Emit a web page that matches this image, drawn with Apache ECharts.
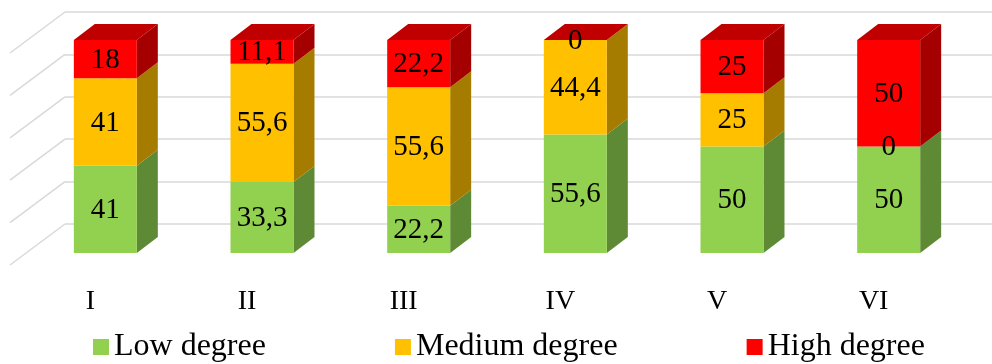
<!DOCTYPE html>
<html>
<head>
<meta charset="utf-8">
<script src="https://cdn.jsdelivr.net/npm/echarts@6/dist/echarts.min.js"></script>
<style>
  html, body { margin: 0; padding: 0; background: #fff; }
  #chart { width: 992px; height: 364px; }
</style>
</head>
<body>
<div id="chart"></div>
<script>
// Categories and stacked shares (percent) per degree level
const categories = ['I', 'II', 'III', 'IV', 'V', 'VI'];
const lowDegree = [41, 33.3, 22.2, 55.6, 50, 50];
const mediumDegree = [41, 55.6, 55.6, 44.4, 25, 0];
const highDegree = [18, 11.1, 22.2, 0, 25, 50];
const wallTicks = [0, 20, 40, 60, 80, 100];

const levels = [
  { name: 'Low degree', values: lowDegree, front: '#92D050', side: '#5F8A35' },
  { name: 'Medium degree', values: mediumDegree, front: '#FFC000', side: '#A67C00' },
  { name: 'High degree', values: highDegree, front: '#FF0000', side: '#A50000', top: '#C00000' }
];

// Pseudo-3D projection of the columns and the back wall
const DEPTH_X = 21, DEPTH_Y = -16;
const FLOOR_X = -55, FLOOR_Y = 41;
const BAR_RATIO = 0.402;
const FONT = '"Liberation Serif", "Times New Roman", serif';

function fmt(v) { return String(v).replace('.', ','); }

const chart = echarts.init(document.getElementById('chart'), null, { renderer: 'canvas' });

const barSeries = levels.map(function (lvl, li) {
  const data = categories.map(function (c, i) {
    let base = 0;
    for (let k = 0; k < li; k++) base += levels[k].values[i];
    return [i, base, base + lvl.values[i], lvl.values[i]];
  });
  const isTop = li === levels.length - 1;
  return {
    type: 'custom',
    name: lvl.name,
    xAxisIndex: 0,
    yAxisIndex: 0,
    itemStyle: { color: lvl.front },
    data: data,
    renderItem: function (params, api) {
      const cat = api.value(0), base = api.value(1), topV = api.value(2), v = api.value(3);
      const pB = api.coord([cat, base]);
      const pT = api.coord([cat, topV]);
      const w = api.size([1, 0])[0] * BAR_RATIO;
      const xl = pB[0] - w / 2, xr = pB[0] + w / 2;
      const yb = pB[1], yt = pT[1];
      const children = [];
      if (yb - yt > 0) {
        children.push({
          type: 'polygon',
          shape: { points: [[xr, yt], [xr + DEPTH_X, yt + DEPTH_Y], [xr + DEPTH_X, yb + DEPTH_Y], [xr, yb]] },
          style: { fill: lvl.side }
        });
        children.push({
          type: 'rect',
          shape: { x: xl, y: yt, width: w, height: yb - yt },
          style: { fill: lvl.front }
        });
      }
      if (isTop) {
        children.push({
          type: 'polygon',
          shape: { points: [[xl, yt], [xr, yt], [xr + DEPTH_X, yt + DEPTH_Y], [xl + DEPTH_X, yt + DEPTH_Y]] },
          style: { fill: lvl.top }
        });
      }
      children.push({
        type: 'text',
        z2: 50,
        style: {
          x: pB[0], y: (yb + yt) / 2 + 1,
          text: fmt(v), fill: '#000',
          font: '29px ' + FONT,
          align: 'center', verticalAlign: 'middle'
        }
      });
      return { type: 'group', children: children };
    }
  };
});

const option = {
  animation: false,
  backgroundColor: '#ffffff',
  grid: [
    { left: 27, width: 940, top: 40, height: 213 },
    { left: 65, right: 0, top: 12, height: 212 }
  ],
  xAxis: [
    {
      type: 'category', gridIndex: 0, data: categories,
      axisLine: { show: false }, axisTick: { show: false },
      axisLabel: {
        margin: 35, color: '#000', fontFamily: FONT, fontSize: 28,
        padding: [0, 30, 0, 0]
      }
    },
    { type: 'value', gridIndex: 1, min: 0, max: 1, show: false }
  ],
  yAxis: [
    { type: 'value', gridIndex: 0, min: 0, max: 100, show: false, splitLine: { show: false } },
    {
      type: 'value', gridIndex: 1, min: 0, max: 100, interval: 20,
      axisLine: { show: false }, axisTick: { show: false }, axisLabel: { show: false },
      splitLine: { show: true, lineStyle: { color: '#D9D9D9', width: 1.5 } }
    }
  ],
  legend: {
    data: levels.map(function (l) { return l.name; }),
    icon: 'rect', itemWidth: 16, itemHeight: 16, itemGap: 129,
    left: 88, top: 325,
    textStyle: { color: '#000', fontFamily: FONT, fontSize: 32, lineHeight: 34 }
  },
  series: [
    {
      type: 'custom',
      name: 'wall',
      xAxisIndex: 1, yAxisIndex: 1,
      silent: true, z: 1,
      data: wallTicks.map(function (t) { return [0, t]; }),
      renderItem: function (params, api) {
        const p = api.coord([0, api.value(1)]);
        return {
          type: 'line',
          shape: { x1: p[0], y1: p[1], x2: p[0] + FLOOR_X, y2: p[1] + FLOOR_Y },
          style: { stroke: '#D9D9D9', lineWidth: 1.5 }
        };
      }
    }
  ].concat(barSeries)
};

chart.setOption(option);
</script>
</body>
</html>
